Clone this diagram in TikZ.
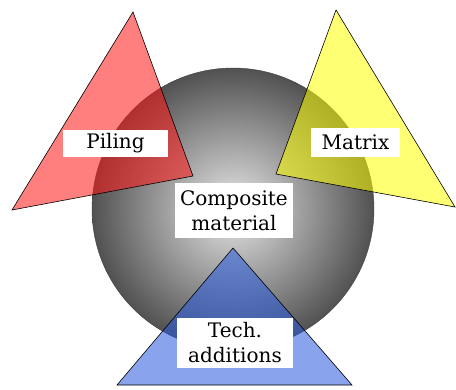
\documentclass[tikz,border=0pt]{standalone}
\usepackage{fontspec}
\setmainfont{DejaVu Serif}
\usepackage{xcolor}
\usetikzlibrary{positioning}

\definecolor{pilred}{RGB}{255,20,20}
\definecolor{matyellow}{RGB}{255,255,0}
\definecolor{techblue}{RGB}{40,90,220}

\begin{document}
\begin{tikzpicture}[x=1pt,y=-1pt,
    tri/.style={draw=black,line width=0.6pt,fill opacity=0.55},
    lbl/.style={fill=white,inner sep=0pt,align=center,
      font=\fontsize{20}{25}\selectfont}]
    \useasboundingbox (0,0) rectangle (456,389);
    % the ball in the middle
    \node[circle,minimum size=282pt,inner sep=0pt,draw=black!75,
      inner color=gray!18,outer color=black!68] (ball) at (233,209) {};
    % corners of the three triangles
    \coordinate (p1) at (133,12);
    \coordinate (p2) at (12,210);
    \coordinate (p3) at (193,176);
    \coordinate (m1) at (336,10);
    \coordinate (m2) at (276,174);
    \coordinate (m3) at (455,207);
    \coordinate (t1) at (233,248);
    \coordinate (t2) at (117,385);
    \coordinate (t3) at (352,385);
    \filldraw[tri,fill=pilred] (p1) -- (p2) -- (p3) -- cycle;
    \filldraw[tri,fill=matyellow] (m1) -- (m2) -- (m3) -- cycle;
    \filldraw[tri,fill=techblue] (t1) -- (t2) -- (t3) -- cycle;
    % labels
    \node[lbl,minimum width=105pt,minimum height=27pt] (piling) at (115.5,143.5) {Piling};
    \node[lbl,minimum width=89pt,minimum height=29pt] (matrix) at (355.5,142.5) {Matrix};
    \node[lbl,minimum width=118pt,minimum height=55pt] (comp) at (234,210.5) {Composite\\material};
    \node[lbl,minimum width=116pt,minimum height=50pt] (tech) at (235,343) {Tech.\\additions};
  \end{tikzpicture}
\end{document}
